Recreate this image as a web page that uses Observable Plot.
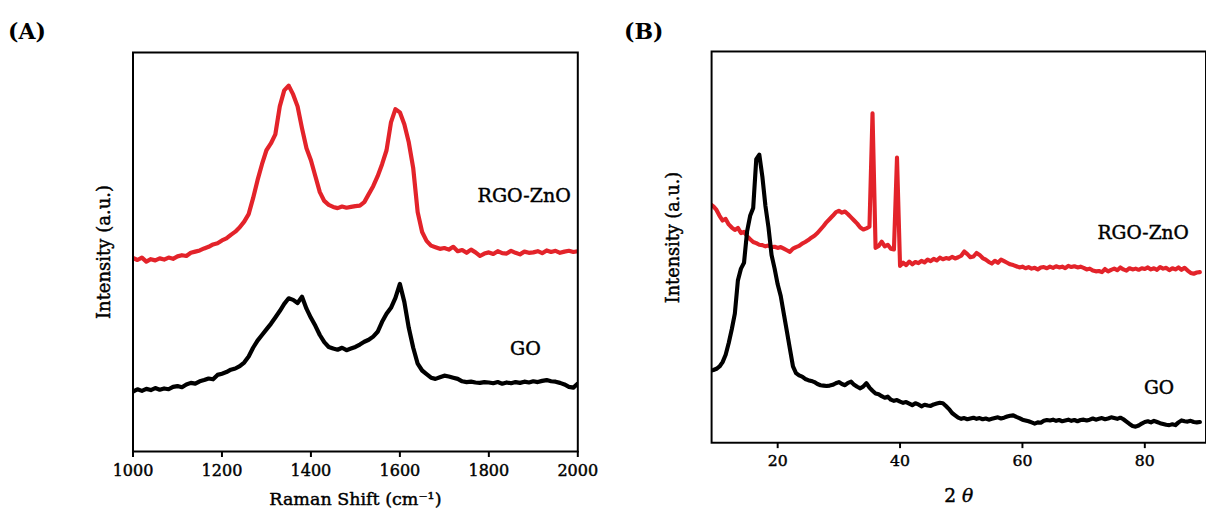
<!DOCTYPE html>
<html>
<head>
<meta charset="utf-8">
<script src="https://cdn.jsdelivr.net/npm/d3@7"></script>
<script src="https://cdn.jsdelivr.net/npm/@observablehq/plot@0.6"></script>
<style>
  html, body { margin: 0; padding: 0; background: #fff; overflow: hidden; }
  #root { position: relative; width: 1206px; height: 515px; overflow: hidden; background: #fff; }
  .panel { position: absolute; top: 0; height: 515px; overflow: hidden; }
  .tag { position: absolute; top: 18px; font-family: "DejaVu Serif", serif; font-weight: bold; font-size: 22px; line-height: normal; color: #000; }
</style>
</head>
<body>
<div id="root">
  <div class="tag" style="left:8px">(A)</div>
  <div class="tag" style="left:624px">(B)</div>
  <div id="panelA" class="panel" style="left:0;width:600px"></div>
  <div id="panelB" class="panel" style="left:600px;width:606px"></div>
</div>
<script>
// ---------- Panel A: Raman spectra (x = 1000 + 10*i cm^-1) ----------
const ramanStart = 1000;
const ramanStep = 10;
const ramanTicks = [1000, 1200, 1400, 1600, 1800, 2000];
const ramanRGOZnO = [
  48.5, 48.0, 48.6, 47.6, 48.2, 47.9, 48.4, 48.1, 48.6, 48.3,
  48.9, 49.2, 49.0, 49.8, 50.1, 50.4, 50.9, 51.3, 51.9, 52.2,
  52.9, 53.4, 54.3, 55.1, 56.2, 57.6, 59.5, 63.5, 68.0, 72.0,
  75.5, 77.2, 79.5, 86.5, 90.5, 91.7, 89.5, 86.5, 81.0, 76.0,
  73.0, 69.0, 65.0, 62.8, 61.8, 61.3, 61.0, 61.4, 61.1, 61.3,
  61.5, 61.6, 62.5, 64.5, 66.5, 69.0, 72.0, 75.5, 82.5, 85.8,
  85.0, 82.0, 77.5, 71.0, 60.0, 55.0, 52.8, 51.6, 51.2, 50.8,
  51.0, 50.6, 51.3, 50.2, 50.5, 49.8, 50.6, 49.9, 49.0, 49.6,
  49.9, 49.5, 50.2, 49.7, 49.6, 50.3, 49.8, 49.4, 50.1, 49.8,
  49.9, 50.2, 49.7, 50.4, 50.0, 50.3, 49.8, 50.1, 50.3, 50.0,
  50.2
];
const ramanGO = [
  15.0, 15.6, 15.2, 15.7, 15.4, 15.9, 15.5, 15.8, 15.6, 16.2,
  16.4, 16.1, 16.8, 17.2, 17.0, 17.6, 17.9, 18.3, 18.1, 19.2,
  19.5, 19.9, 20.5, 20.8, 21.4, 22.3, 23.8, 26.0, 27.8, 29.2,
  30.6, 32.0, 33.6, 35.2, 37.0, 38.4, 38.0, 37.2, 38.8, 35.8,
  33.5, 31.5, 29.2, 27.4, 26.2, 25.8, 25.5, 26.0, 25.4, 25.8,
  26.2, 26.8, 27.5, 28.0, 28.8, 30.0, 32.5, 34.5, 36.0, 38.5,
  42.0, 37.5, 31.0, 26.0, 22.0, 20.3, 19.4, 18.5, 18.2, 18.6,
  19.0, 18.8, 18.5, 18.2, 17.6, 17.4, 17.5, 17.3, 17.2, 17.4,
  17.3, 17.1, 17.4, 17.0, 17.3, 17.1, 17.4, 17.2, 17.5, 17.3,
  17.6, 17.4, 17.7, 17.9, 17.6, 17.5, 17.2, 16.8, 16.2, 16.0,
  17.0
];

// ---------- Panel B: XRD patterns (x = 9 + 0.5*i degrees 2θ) ----------
const thetaStart = 9;
const thetaStep = 0.5;
const thetaTicks = [20, 40, 60, 80];
const xrdRGOZnO = [
  61.0, 60.4, 59.5, 58.0, 56.8, 57.2, 55.8, 55.0, 54.4, 54.9,
  53.6, 53.9, 52.8, 52.0, 51.3, 51.0, 50.6, 50.5, 50.2, 50.4,
  50.0, 50.1, 49.8, 50.0, 49.6, 49.2, 48.8, 49.6, 50.0, 50.3,
  50.9, 51.3, 51.8, 52.4, 52.9, 53.6, 54.5, 55.4, 56.4, 57.2,
  58.0, 58.9, 59.3, 58.8, 59.1, 58.4, 57.6, 56.8, 56.0, 55.0,
  54.5, 54.8, 55.2, 84.2, 49.8, 50.3, 51.4, 50.2, 50.6, 49.6,
  49.4, 72.9, 45.2, 46.0, 45.4, 46.3, 45.6, 46.2, 45.9, 46.5,
  46.1, 46.8, 46.4, 47.0, 46.6, 47.3, 46.9, 47.2, 47.0, 47.5,
  47.1, 47.4, 47.8, 48.9, 48.2, 47.4, 47.6, 48.5, 48.0, 47.2,
  46.8, 46.2, 45.8, 46.5, 46.0, 46.8, 46.4, 46.0, 45.6, 45.4,
  45.1, 44.8, 45.0, 44.6, 44.9, 44.5, 44.7, 44.3, 44.8, 44.9,
  44.6, 45.0, 44.7, 45.1, 44.8, 45.0, 44.6, 45.2, 44.9, 45.1,
  44.8, 45.0, 44.7, 44.3, 44.5, 44.0, 43.8, 43.9, 43.6, 44.4,
  43.8, 44.2, 44.5, 44.1, 44.8, 44.3, 44.0, 44.6, 44.3, 44.5,
  44.2, 44.6, 44.4, 44.8, 44.3, 44.6, 44.2, 44.9, 44.5, 44.7,
  44.1, 44.6, 44.3, 44.8, 44.2, 44.7, 44.0, 43.4, 43.2, 43.5,
  43.6
];
const xrdGO = [
  18.4, 18.6, 18.9, 19.5, 20.6, 22.5, 25.5, 29.0, 33.0, 41.5,
  44.5, 46.0, 54.0, 58.0, 60.0, 72.5, 73.6, 68.0, 60.5, 55.0,
  48.0, 44.5, 40.5, 37.5, 33.0, 28.5, 24.0, 19.5, 17.8, 17.2,
  16.9, 16.3, 16.0, 15.8, 15.5, 15.0, 14.7, 14.6, 14.5, 14.6,
  14.8, 15.2, 15.5, 15.0, 14.7, 15.3, 15.6, 14.8, 14.3, 13.9,
  14.4, 15.2, 14.1, 13.3, 12.6, 12.4, 11.9, 11.5, 11.8, 11.0,
  10.7, 10.9, 10.5, 10.2, 10.4, 10.0, 9.6, 10.1, 9.8, 9.3,
  9.7, 9.5, 9.4, 9.8, 10.0, 10.2, 10.1, 9.4, 8.6, 7.6,
  7.0, 6.4, 6.1, 6.3, 6.0, 6.2, 6.4, 6.1, 6.3, 6.0,
  6.2, 5.9, 6.1, 6.3, 6.5, 6.2, 6.4, 6.7, 6.9, 7.0,
  6.6, 6.3, 5.9, 5.7, 5.5, 5.2, 4.9, 5.2, 5.1, 5.6,
  5.8, 5.7, 5.9, 5.6, 5.8, 5.5, 5.7, 5.9, 5.6, 5.8,
  5.5, 5.8, 5.9, 5.7, 5.9, 6.2, 5.9, 6.1, 6.3, 6.0,
  6.2, 6.5, 6.3, 6.1, 6.4, 6.0, 5.4, 4.8, 4.3, 4.1,
  4.4, 4.9, 5.3, 5.5, 5.2, 5.6, 5.3, 5.0, 4.8, 4.6,
  4.5, 4.7, 4.5, 5.2, 5.7, 5.5, 5.4, 5.6, 5.3, 5.2,
  5.3
];

const seriesNames = ["RGO-ZnO", "GO"];
const RED = "#e3232a";
const BLACK = "#000000";
const LINE_W = 4.2;

const rows = (vals, start, step) => vals.map((v, i) => ({x: start + step * i, y: v}));

const baseStyle = {
  fontFamily: '"DejaVu Serif", serif',
  fontSize: "15px",
  color: "#000",
  background: "transparent",
  overflow: "visible"
};

// slightly heavier text, like the reference's type
const heavy = {stroke: "#000", strokeWidth: 0.45, fill: "#000"};

// tick marks from the axis, tick labels as text marks on the x scale
const xTicks = (ticks) => [
  Plot.axisX({ticks, tickSize: 6, strokeWidth: 2, tickFormat: () => "", label: null}),
  Plot.text(ticks, {x: (d) => d, text: (d) => String(d), frameAnchor: "bottom", dy: 19, textAnchor: "middle", lineAnchor: "middle", fontSize: 16, ...heavy})
];

// ---------- Panel A ----------
const chartA = Plot.plot({
  width: 600,
  height: 515,
  marginLeft: 132.5,
  marginRight: 22.7,
  marginTop: 52,
  marginBottom: 64,
  style: baseStyle,
  x: {domain: [1000, 2000]},
  y: {domain: [0, 100], axis: null},
  marks: [
    Plot.line(rows(ramanRGOZnO, ramanStart, ramanStep), {x: "x", y: "y", stroke: RED, strokeWidth: LINE_W, clip: true}),
    Plot.line(rows(ramanGO, ramanStart, ramanStep), {x: "x", y: "y", stroke: BLACK, strokeWidth: LINE_W, clip: true}),
    Plot.frame({stroke: "#000", strokeWidth: 2}),
    ...xTicks(ramanTicks),
    Plot.text([seriesNames[0]], {frameAnchor: "top-right", dx: -7, dy: 143, textAnchor: "end", lineAnchor: "middle", fontSize: 19, ...heavy}),
    Plot.text([seriesNames[1]], {frameAnchor: "top-right", dx: -37, dy: 296, textAnchor: "end", lineAnchor: "middle", fontSize: 19, ...heavy}),
    Plot.text(["Intensity (a.u.)"], {frameAnchor: "left", dx: -28.5, rotate: -90, textAnchor: "middle", lineAnchor: "middle", fontSize: 18, ...heavy}),
    Plot.text(["Raman Shift (cm\u207B\u00B9)"], {frameAnchor: "bottom", dy: 48, textAnchor: "middle", lineAnchor: "middle", fontSize: 17.5, ...heavy})
  ]
});
document.getElementById("panelA").appendChild(chartA);

// ---------- Panel B ----------
const chartB = Plot.plot({
  width: 618,
  height: 515,
  marginLeft: 113.3,
  marginRight: 0.5,
  marginTop: 52,
  marginBottom: 64,
  style: baseStyle,
  x: {domain: [9.2, 90]},
  y: {domain: [0, 100], axis: null},
  marks: [
    Plot.line(rows(xrdRGOZnO, thetaStart, thetaStep), {x: "x", y: "y", stroke: RED, strokeWidth: LINE_W, clip: true}),
    Plot.line(rows(xrdGO, thetaStart, thetaStep), {x: "x", y: "y", stroke: BLACK, strokeWidth: LINE_W, clip: true}),
    Plot.frame({stroke: "#000", strokeWidth: 2}),
    ...xTicks(thetaTicks),
    Plot.text([seriesNames[0]], {frameAnchor: "top-right", dx: -17.5, dy: 184.7, textAnchor: "end", lineAnchor: "middle", fontSize: 19, ...heavy}),
    Plot.text([seriesNames[1]], {frameAnchor: "top-right", dx: -32.5, dy: 343, textAnchor: "end", lineAnchor: "middle", fontSize: 19, ...heavy}),
    Plot.text(["Intensity (a.u.)"], {frameAnchor: "left", dx: -38.8, dy: -9.8, rotate: -90, textAnchor: "middle", lineAnchor: "middle", fontSize: 18, ...heavy}),
    Plot.text(["2\u03B8"], {frameAnchor: "bottom", dy: 54, textAnchor: "middle", lineAnchor: "middle", fontSize: 19, ...heavy})
  ]
});
document.getElementById("panelB").appendChild(chartB);

// italic theta in the 2θ label
d3.select(chartB).selectAll("text")
  .filter(function () { return this.textContent === "2\u03B8"; })
  .each(function () {
    const t = d3.select(this);
    t.text(null);
    t.append("tspan").text("2 ");
    t.append("tspan").attr("font-style", "italic").text("\u03B8");
  });
</script>
</body>
</html>
